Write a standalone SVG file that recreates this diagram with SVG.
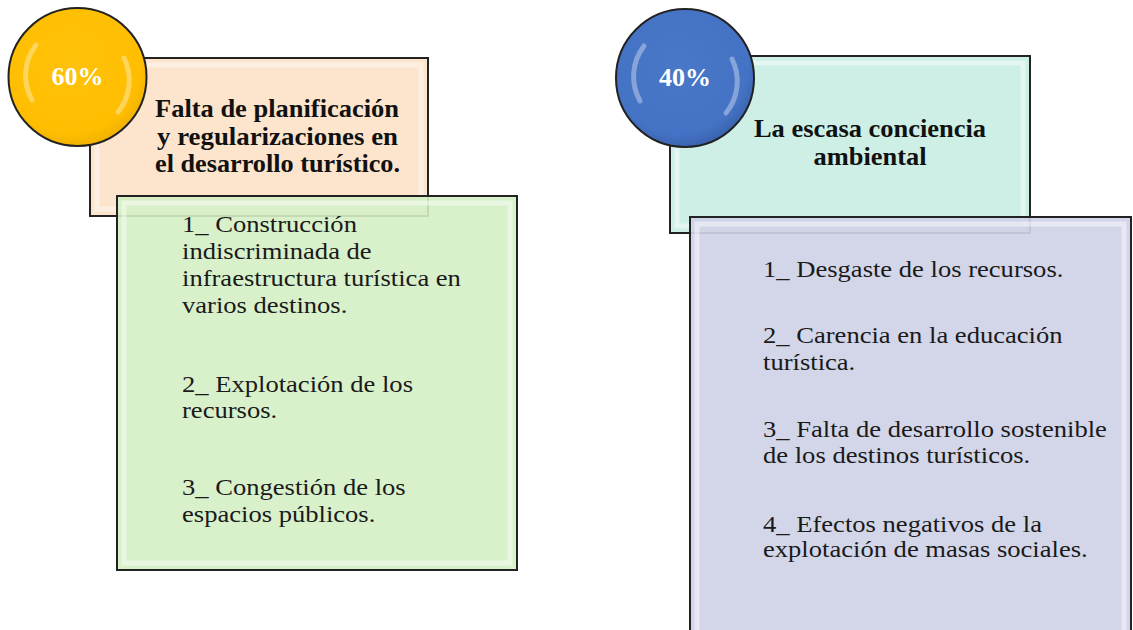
<svg xmlns="http://www.w3.org/2000/svg" width="1133" height="630" viewBox="0 0 1133 630">
<style>
.box{stroke:#222;stroke-width:2}
.bevel{fill:none;stroke:#ffffff;stroke-opacity:0.45;stroke-width:5}
.ttl{font-family:"Liberation Serif","Times New Roman",serif;font-weight:bold;font-size:24.5px;fill:#111}
.body{font-family:"Liberation Serif","Times New Roman",serif;font-size:24px;fill:#1a1a1a}
.pct{font-family:"Liberation Serif","Times New Roman",serif;font-weight:bold;font-size:26px;fill:#ffffff;text-anchor:middle}
.circ{stroke:#222;stroke-width:2}
.hl{fill:none;stroke:#ffffff;stroke-opacity:0.35;stroke-width:5;stroke-linecap:round}
</style>
<defs>
<radialGradient id="gGold" cx="0.45" cy="0.4" r="0.6">
<stop offset="0" stop-color="#FFC20A"/>
<stop offset="0.85" stop-color="#FFBE00"/>
<stop offset="1" stop-color="#F2B200"/>
</radialGradient>
<radialGradient id="gBlue" cx="0.45" cy="0.4" r="0.6">
<stop offset="0" stop-color="#4A78C8"/>
<stop offset="0.85" stop-color="#4472C4"/>
<stop offset="1" stop-color="#3A64B0"/>
</radialGradient>
</defs>

<g id="node-left-title">
<rect class="box" x="90" y="58" width="338" height="158" fill="#FCE4CD"/>
<rect class="bevel" x="97" y="65" width="324" height="144"/>
<text class="ttl" x="155" y="117" textLength="244" lengthAdjust="spacingAndGlyphs">Falta de planificación</text>
<text class="ttl" x="157" y="145" textLength="241" lengthAdjust="spacingAndGlyphs">y regularizaciones en</text>
<text class="ttl" x="155" y="172" textLength="245" lengthAdjust="spacingAndGlyphs">el desarrollo turístico.</text>
</g>

<g id="node-left-circle">
<circle class="circ" cx="77.5" cy="77" r="69" fill="url(#gGold)"/>
<path class="hl" d="M 36 45 A 50 50 0 0 0 32 100"/>
<path class="hl" d="M 118 112 A 50 50 0 0 0 124 58" stroke-opacity="0.25"/>
<text class="pct" x="77.5" y="85">60%</text>
</g>

<g id="node-left-list">
<rect class="box" x="117" y="196" width="400" height="374" fill="#D4F0C5" fill-opacity="0.9"/>
<rect class="bevel" x="124" y="203" width="386" height="360"/>
<g transform="matrix(1.108 0 0 1 -19.66 0)">
<text class="body" x="182" y="232">1_ Construcción</text>
<text class="body" x="182" y="259">indiscriminada de</text>
<text class="body" x="182" y="286">infraestructura turística en</text>
<text class="body" x="182" y="313">varios destinos.</text>
<text class="body" x="182" y="392">2_ Explotación de los</text>
<text class="body" x="182" y="418">recursos.</text>
<text class="body" x="182" y="495">3_ Congestión de los</text>
<text class="body" x="182" y="522">espacios públicos.</text>
</g>
</g>

<g id="node-right-title">
<rect class="box" x="670" y="56" width="360" height="177" fill="#CDEFE5"/>
<rect class="bevel" x="677" y="63" width="346" height="163"/>
<g transform="matrix(1.08 0 0 1 -69.6 0)">
<text class="ttl" x="870" y="137" text-anchor="middle">La escasa conciencia</text>
<text class="ttl" x="870" y="165" text-anchor="middle">ambiental</text>
</g>
</g>

<g id="node-right-circle">
<circle class="circ" cx="685" cy="78" r="69" fill="url(#gBlue)"/>
<path class="hl" d="M 644 46 A 50 50 0 0 0 640 101"/>
<path class="hl" d="M 726 113 A 50 50 0 0 0 732 59" stroke-opacity="0.25"/>
<text class="pct" x="685" y="86">40%</text>
</g>

<g id="node-right-list">
<rect class="box" x="690" y="217" width="441" height="425" fill="#CFD2E7" fill-opacity="0.92"/>
<rect class="bevel" x="697" y="224" width="427" height="411"/>
<g transform="matrix(1.108 0 0 1 -82.4 0)">
<text class="body" x="763" y="277">1_ Desgaste de los recursos.</text>
<text class="body" x="763" y="343">2_ Carencia en la educación</text>
<text class="body" x="763" y="370">turística.</text>
<text class="body" x="763" y="437">3_ Falta de desarrollo sostenible</text>
<text class="body" x="763" y="463">de los destinos turísticos.</text>
<text class="body" x="763" y="532">4_ Efectos negativos de la</text>
<text class="body" x="763" y="557">explotación de masas sociales.</text>
</g>
</g>

<g id="connectors"></g>
</svg>
